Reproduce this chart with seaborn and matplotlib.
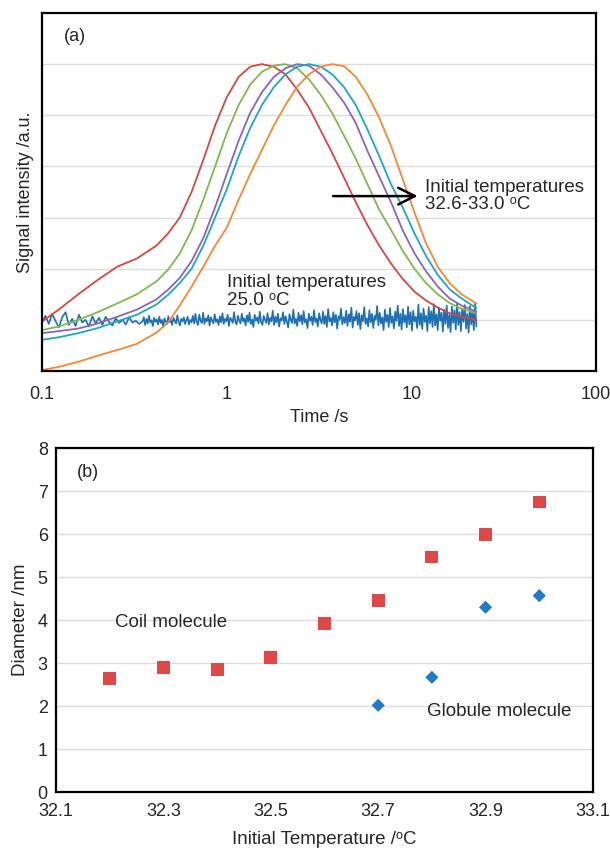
import numpy as np
import pandas as pd
import matplotlib
matplotlib.use("Agg")
import matplotlib.pyplot as plt
import seaborn as sns

# ---- panel (a): signal vs time ----
time_s = [0.1, 0.123, 0.157, 0.2, 0.255, 0.326, 0.416, 0.481, 0.557, 0.645, 0.747, 0.865,
          1.0, 1.16, 1.34, 1.55, 1.8, 2.08, 2.41, 2.79, 3.23, 3.73, 4.32, 5.0, 5.79, 6.7,
          7.76, 8.98, 10.4, 12.0, 13.9, 16.1, 18.7, 22.5]

sig_red = [0.97, 1.2, 1.5, 1.78, 2.04, 2.2, 2.45, 2.69, 3.0, 3.5, 4.13, 4.8,
           5.35, 5.75, 5.95, 6.0, 5.95, 5.8, 5.5, 5.15, 4.7, 4.26, 3.78, 3.3, 2.85, 2.45,
           2.1, 1.8, 1.55, 1.38, 1.24, 1.13, 1.06, 1.0]
sig_green = [0.8, 0.87, 1.0, 1.15, 1.32, 1.5, 1.75, 1.98, 2.3, 2.75, 3.35, 4.0,
             4.65, 5.2, 5.6, 5.85, 5.97, 6.0, 5.92, 5.7, 5.4, 5.04, 4.6, 4.15, 3.65, 3.15,
             2.76, 2.35, 2.0, 1.72, 1.5, 1.33, 1.22, 1.13]
sig_purple = [0.74, 0.78, 0.83, 0.93, 1.06, 1.2, 1.4, 1.59, 1.82, 2.15, 2.6, 3.2,
              3.85, 4.5, 5.05, 5.45, 5.75, 5.92, 6.0, 5.97, 5.8, 5.55, 5.25, 4.85, 4.3, 3.8,
              3.3, 2.75, 2.3, 1.95, 1.65, 1.42, 1.28, 1.16]
sig_cyan = [0.61, 0.66, 0.74, 0.84, 0.97, 1.1, 1.3, 1.49, 1.72, 2.0, 2.45, 3.0,
            3.55, 4.2, 4.75, 5.2, 5.55, 5.8, 5.95, 6.0, 5.95, 5.8, 5.55, 5.2, 4.72, 4.2,
            3.65, 3.2, 2.69, 2.25, 1.88, 1.6, 1.42, 1.23]
sig_orange = [0.02, 0.08, 0.18, 0.3, 0.41, 0.53, 0.75, 0.95, 1.28, 1.65, 2.04, 2.45,
              2.8, 3.35, 3.85, 4.32, 4.8, 5.2, 5.56, 5.8, 5.95, 6.0, 5.96, 5.75, 5.4, 4.95,
              4.4, 3.75, 3.1, 2.5, 2.04, 1.72, 1.5, 1.32]

# 25.0 C trace (noisy, flat)
noise_early = [0.95, 1.08, 0.92, 1.12, 0.98, 0.85, 1.05, 1.15, 0.9, 1.02, 0.88, 1.1, 0.95, 1.0, 0.87,
               1.07, 0.93, 1.04, 0.9, 1.06, 0.96, 0.89, 1.03, 0.94, 1.0, 0.91, 1.05, 0.95, 0.98, 0.92]
noise_late = [
    0.97, 1.05, 0.90, 1.02, 0.93, 1.08, 0.95, 0.99, 0.88, 1.04, 0.96, 1.01, 0.91, 1.06, 0.94, 1.00, 0.86, 1.03, 0.97, 0.92,
    1.07, 0.95, 1.00, 0.90, 1.04, 0.98, 0.93, 1.09, 0.96, 0.89, 1.02, 0.97, 1.05, 0.92, 0.99, 1.06, 0.91, 1.00, 0.95, 1.08,
    0.93, 1.12, 0.96, 0.90, 1.10, 0.98, 0.94, 1.14, 0.92, 1.03, 0.97, 1.09, 0.89, 1.05, 0.99, 0.93, 1.11, 0.96, 1.01, 0.90,
    1.07, 0.95, 1.13, 0.92, 1.02, 0.97, 1.10, 0.88, 1.04, 1.00, 0.94, 1.15, 0.96, 0.91, 1.08, 0.99, 0.93, 1.12, 0.97, 1.03,
    0.89, 1.09, 0.96, 1.14, 0.92, 1.01, 0.86, 1.10, 0.98, 1.05, 0.93, 1.16, 0.95, 0.90, 1.08, 1.00, 0.94, 1.13, 0.91, 1.04,
    0.97, 1.18, 0.90, 1.06, 0.95, 1.12, 0.87, 1.03, 0.99, 1.15, 0.92, 1.07, 0.96, 0.85, 1.11, 1.00, 0.94, 1.20, 0.93, 1.02,
    0.88, 1.14, 0.97, 1.09, 0.91, 1.17, 0.95, 1.01, 0.84, 1.12, 0.98, 1.06, 0.90, 1.19, 0.96, 1.03, 0.87, 1.13, 1.00, 0.93,
    1.16, 0.92, 1.08, 0.86, 1.21, 0.97, 1.04, 0.89, 1.15, 0.95, 1.10, 0.83, 1.07, 1.00, 1.22, 0.91, 1.05, 0.94, 1.18, 0.88,
    1.11, 0.96, 1.24, 0.85, 1.06, 0.99, 1.17, 0.90, 1.13, 0.82, 1.09, 0.97, 1.25, 0.92, 1.03, 0.87, 1.19, 0.95, 1.12, 0.84,
    1.08, 1.00, 1.27, 0.89, 1.14, 0.93, 1.05, 0.80, 1.20, 0.96, 1.10, 0.86, 1.23, 0.94, 1.07, 0.83, 1.16, 0.98, 1.28, 0.88,
    1.12, 0.81, 1.21, 0.95, 1.09, 0.85, 1.26, 0.91, 1.15, 0.79, 1.18, 0.97, 1.06, 0.84, 1.30, 0.90, 1.13, 0.82, 1.22, 0.96,
    1.08, 0.78, 1.25, 0.93, 1.17, 0.86, 1.31, 0.89, 1.11, 0.80, 1.24, 0.98, 1.14, 0.77, 1.20, 0.92, 1.28, 0.84, 1.10, 0.76,
    1.26, 0.94, 1.19, 0.81, 1.33, 0.90, 1.15, 0.78, 1.22, 0.96, 1.29, 0.83, 1.12, 0.75, 1.27, 0.91, 1.18, 0.80, 1.32, 0.87]

# ---- panel (b): diameter vs initial temperature ----
coil_temp = [32.2, 32.3, 32.4, 32.5, 32.6, 32.7, 32.8, 32.9, 33.0]
coil_diam = [2.65, 2.9, 2.85, 3.13, 3.92, 4.45, 5.47, 6.0, 6.75]
glob_temp = [32.7, 32.8, 32.9, 33.0]
glob_diam = [2.02, 2.67, 4.3, 4.57]

curve_colors = {"red": "#d9463f", "green": "#7dba4c", "purple": "#8b63b8",
                "cyan": "#1aa7c9", "orange": "#f7882f"}

sns.set_theme(style="white")
plt.rcParams['font.family'] = ['Liberation Sans', 'DejaVu Sans']

df = pd.DataFrame({
    "time": time_s * 5,
    "signal": sig_red + sig_green + sig_purple + sig_cyan + sig_orange,
    "curve": sum([[k] * len(time_s) for k in curve_colors], []),
})
t_noise = np.concatenate([np.geomspace(0.1, 0.35, len(noise_early), endpoint=False),
                          np.geomspace(0.35, 22.5, len(noise_late))])
df_noise = pd.DataFrame({"time": t_noise, "signal": noise_early + noise_late})

fig = plt.figure(figsize=(6.1, 8.49), dpi=100)
ax1 = fig.add_axes([0.069, 0.563, 0.908, 0.4217])
ax2 = fig.add_axes([0.092, 0.067, 0.880, 0.405])

# (a)
sns.lineplot(data=df_noise, x="time", y="signal", color="#1f6fb4", lw=1.2,
             estimator=None, sort=False, ax=ax1)
sns.lineplot(data=df, x="time", y="signal", hue="curve", palette=curve_colors,
             lw=1.3, estimator=None, sort=False, legend=False, ax=ax1)
ax1.set_xscale("log")
ax1.set_xlim(0.1, 100)
ax1.set_ylim(0, 7)
ax1.set_xticks([0.1, 1, 10, 100])
ax1.set_xticklabels(["0.1", "1", "10", "100"])
ax1.xaxis.set_minor_locator(matplotlib.ticker.NullLocator())
ax1.set_yticks([1, 2, 3, 4, 5, 6])
ax1.tick_params(axis="both", length=0, labelsize=13, pad=11)
ax1.tick_params(axis="y", labelleft=False)
ax1.yaxis.grid(True, color="#dcdcdc", lw=1)
ax1.xaxis.grid(False)
ax1.set_xlabel("Time /s", fontsize=13, labelpad=4)
ax1.set_ylabel("Signal intensity /a.u.", fontsize=13, labelpad=6)
ax1.text(0.04, 0.935, "(a)", transform=ax1.transAxes, fontsize=13, va="center")
ax1.annotate("", xy=(11.2, 3.42), xytext=(3.64, 3.42),
             arrowprops=dict(arrowstyle="->", lw=1.8, color="black", mutation_scale=30))
ax1.text(11.9, 3.42, "Initial temperatures\n32.6-33.0 \u1d52C", fontsize=13.5,
         va="center", ha="left", linespacing=1.05)
ax1.text(1.0, 1.55, "Initial temperatures\n25.0 \u1d52C", fontsize=13.5,
         va="center", ha="left", linespacing=1.05)

# (b)
sns.scatterplot(x=coil_temp, y=coil_diam, marker="s", s=85, color="#e04848",
                edgecolor="none", ax=ax2, zorder=3)
sns.scatterplot(x=glob_temp, y=glob_diam, marker="D", s=45, color="#1f7bc8",
                edgecolor="none", ax=ax2, zorder=3)
ax2.set_xlim(32.1, 33.1)
ax2.set_ylim(0, 8)
xt = np.arange(32.1, 33.11, 0.2)
ax2.set_xticks(xt)
ax2.set_xticklabels([f"{v:.1f}" for v in xt])
ax2.set_yticks(range(0, 9))
ax2.tick_params(axis="x", length=0, labelsize=13, pad=8)
ax2.tick_params(axis="y", length=0, labelsize=13, pad=6)
ax2.yaxis.grid(True, color="#dcdcdc", lw=1)
ax2.xaxis.grid(False)
ax2.set_xlabel("Initial Temperature /\u1d52C", fontsize=13.5, labelpad=8)
ax2.set_ylabel("Diameter /nm", fontsize=13.5, labelpad=6)
ax2.text(0.039, 0.93, "(b)", transform=ax2.transAxes, fontsize=13, va="center")
ax2.text(32.21, 3.95, "Coil molecule", fontsize=13.5, va="center")
ax2.text(32.79, 1.88, "Globule molecule", fontsize=13.5, va="center")

for ax in (ax1, ax2):
    for sp in ax.spines.values():
        sp.set_visible(True)
        sp.set_color("black")
        sp.set_linewidth(1.6)

fig.savefig("out.png", dpi=100)
